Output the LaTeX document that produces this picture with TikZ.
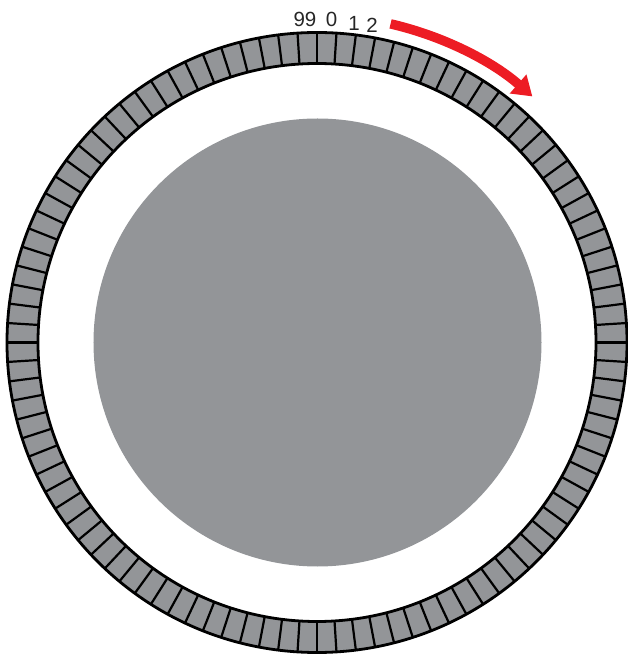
\documentclass[tikz,border=0pt]{standalone}
\usepackage{fontspec}
\setmainfont{Liberation Sans}
\usetikzlibrary{arrows.meta}
\definecolor{ringgray}{HTML}{939598}
\definecolor{arrowred}{HTML}{ED1C24}
\tikzset{
  seglabel/.style={inner sep=0pt, font=\fontsize{20.5}{20.5}\selectfont, text=black!85},
  segline/.style={line width=2.2pt, black},
  ringline/.style={line width=2.8pt, black},
}
\begin{document}
\begin{tikzpicture}[x=1pt,y=1pt]
\useasboundingbox (-317,-312.5) rectangle (311,342.5);
% inner disc
\fill[ringgray] (0.5,0) circle (224);
% ring
\fill[ringgray, even odd rule] (0,0) circle (310) (0,0) circle (279);
\foreach \i in {0,...,99} {
  \draw[segline] (90-3.6*\i:279) -- (90-3.6*\i:310);
}
\draw[ringline] (0,0) circle (310);
\draw[ringline] (0,0) circle (279);
% labels
\node[seglabel] (l99) at (-12,323.5) {99};
\node[seglabel] (l0) at (14.5,323.5) {0};
\node[seglabel] (l1) at (37,319.5) {1};
\node[seglabel] (l2) at (55,317.5) {2};
% arrow
\coordinate (as) at (77:327);
\draw[arrowred, line width=9.5pt, -{Triangle[length=19pt,width=24pt]}] (as) arc (77:48.8:327);
\end{tikzpicture}
\end{document}
